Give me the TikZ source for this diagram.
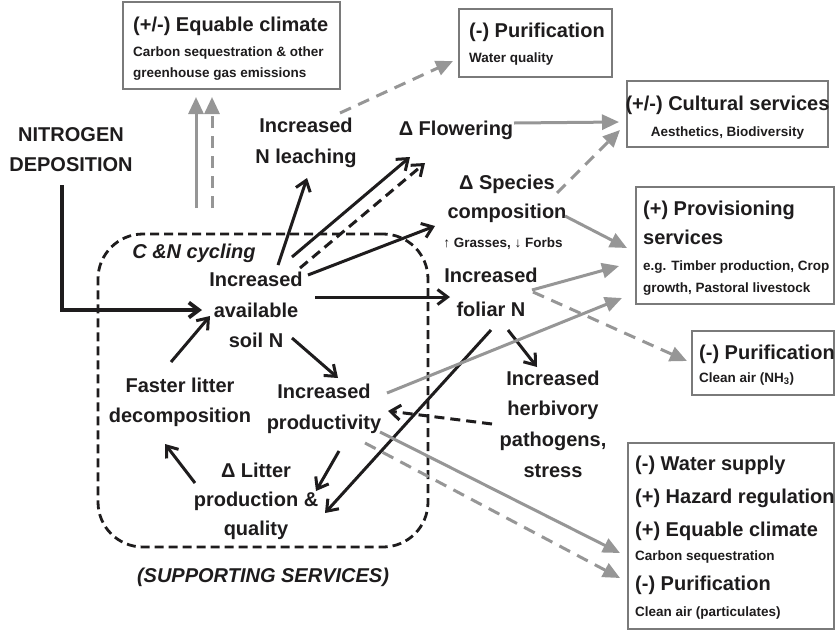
\documentclass[tikz,border=0pt]{standalone}
\usepackage{fontspec}
\setmainfont{Liberation Sans}
\usetikzlibrary{arrows.meta}
\definecolor{ink}{HTML}{1E1C1D}
\definecolor{gl}{HTML}{969696}
\definecolor{bx}{HTML}{7A7A7A}
\begin{document}
\begin{tikzpicture}[x=1pt,y=-1pt,
  lbl/.style={font=\bfseries\fontsize{20}{30}\selectfont, align=center, inner sep=0pt, text=ink},
  ttl/.style={font=\bfseries\fontsize{20}{24}\selectfont, anchor=base west, inner sep=0pt, text=ink},
  sub/.style={font=\bfseries\fontsize{13.5}{16}\selectfont, anchor=base west, inner sep=0pt, text=ink},
  svbox/.style={draw=bx, line width=1.3pt, inner sep=0pt},
  blk/.style={draw=ink, line width=3pt, -{Straight Barb[length=10pt,width=15pt]}},
  blkd/.style={blk, dash pattern=on 10pt off 6pt},
  gry/.style={draw=gl, line width=3pt, -{Triangle[length=17pt,width=15pt]}},
  gryd/.style={gry, dash pattern=on 12pt off 8pt},
]
\useasboundingbox (0,0) rectangle (835,630);

% cycle box
\node[draw=ink, line width=2.8pt, dash pattern=on 9pt off 5pt, rounded corners=45pt,
      minimum width=330pt, minimum height=313pt, inner sep=0pt] (cyc) at (263,390.5) {};

% service boxes
\node[svbox, minimum width=217pt, minimum height=87pt] (eqc) at (231.5,45.5) {};
\node[ttl] (eqct) at (133,31) {(+/-) Equable climate};
\node[sub] (eqcs1) at (133,56) {Carbon sequestration \& other};
\node[sub] (eqcs2) at (133,77) {greenhouse gas emissions};

\node[svbox, minimum width=153pt, minimum height=68pt] (pw) at (535.5,43) {};
\node[ttl] (pwt) at (469,37) {(-) Purification};
\node[sub] (pws) at (469,62) {Water quality};

\node[svbox, minimum width=201pt, minimum height=66pt] (cult) at (727.5,114) {};
\node[ttl, anchor=base] (cultt) at (727.5,110) {(+/-) Cultural services};
\node[sub, anchor=base] (cults) at (727.5,136) {Aesthetics, Biodiversity};

\node[svbox, minimum width=198pt, minimum height=117pt] (prov) at (735,245.5) {};
\node[ttl] (provt1) at (643,215) {(+) Provisioning};
\node[ttl] (provt2) at (643,244) {services};
\node[sub] (provs1) at (643,270) {e.g. Timber production, Crop};
\node[sub] (provs2) at (643,292) {growth, Pastoral livestock};

\node[svbox, minimum width=142pt, minimum height=64pt] (pnh) at (763,363) {};
\node[ttl] (pnht) at (699,359) {(-) Purification};
\node[sub] (pnhs) at (699,382) {Clean air (NH\textsubscript{3})};

\node[svbox, minimum width=206pt, minimum height=186pt] (bot) at (731,536) {};
\node[ttl] (bot1) at (635,470) {(-) Water supply};
\node[ttl] (bot2) at (635,503) {(+) Hazard regulation};
\node[ttl] (bot3) at (635,536) {(+) Equable climate};
\node[sub] (bot4) at (635,560) {Carbon sequestration};
\node[ttl] (bot5) at (635,590) {(-) Purification};
\node[sub] (bot6) at (635,616) {Clean air (particulates)};

% labels
\node[lbl] (ndep) at (71,150) {NITROGEN\\DEPOSITION};
\node[lbl, font=\bfseries\fontsize{20}{31}\selectfont] (leach) at (306,143) {Increased\\N leaching};
\node[lbl] (flow) at (456,130) {Δ Flowering};
\node[lbl, font=\bfseries\fontsize{20}{29}\selectfont] (spec) at (507,199) {Δ Species\\composition};
\node[sub, anchor=base] (grass) at (503,247) {↑ Grasses, ↓ Forbs};
\node[lbl, font=\bfseries\fontsize{20}{34}\selectfont] (fol) at (491,292) {Increased\\foliar N};
\node[lbl, font=\bfseries\itshape\fontsize{20}{30}\selectfont] (cn) at (194,253) {C \&N cycling};
\node[lbl, font=\bfseries\fontsize{20}{30.5}\selectfont] (avail) at (256,310) {Increased\\available\\soil N};
\node[lbl] (faster) at (180,402) {Faster litter\\decomposition};
\node[lbl, font=\bfseries\fontsize{20}{31}\selectfont] (prod) at (324,409) {Increased\\productivity};
\node[lbl, font=\bfseries\fontsize{20}{29}\selectfont] (litter) at (256,501) {Δ Litter\\production \&\\quality};
\node[lbl, font=\bfseries\fontsize{20}{30.7}\selectfont] (herb) at (553,424) {Increased\\herbivory\\pathogens,\\stress};
\node[lbl, font=\bfseries\itshape\fontsize{20}{30}\selectfont] (supp) at (263,577) {(SUPPORTING SERVICES)};

% black arrows
\draw[blk, line width=3.8pt] ([shift={(-9,35)}]ndep.center) |- ([shift={(-54,0)}]avail.center);
\draw[blk] ([shift={(22,-45)}]avail.center) -- ([shift={(1,35)}]leach.center);
\draw[blk] ([shift={(36,-53)}]avail.center) -- ([shift={(-46,27)}]flow.center);
\draw[blkd] ([shift={(44,-42)}]avail.center) -- ([shift={(-31,33)}]flow.center);
\draw[blk] ([shift={(52,-35)}]avail.center) -- ([shift={(-72,27)}]spec.center);
\draw[blk] ([shift={(59,-13)}]avail.center) -- ([shift={(-41,5)}]fol.center);
\draw[blk] ([shift={(36,28)}]avail.center) -- ([shift={(14,-31)}]prod.center);
\draw[blk] ([shift={(-9,-40)}]faster.center) -- ([shift={(-46,6)}]avail.center);
\draw[blk] ([shift={(-61,-18)}]litter.center) -- ([shift={(-15,42)}]faster.center);
\draw[blk] ([shift={(15,42)}]prod.center) -- ([shift={(60,-10)}]litter.center);
\draw[blk] ([shift={(0,38)}]fol.center) -- ([shift={(69,12)}]litter.center);
\draw[blk] ([shift={(17,38)}]fol.center) -- ([shift={(-16,-57)}]herb.center);
\draw[blkd] ([shift={(-61,0)}]herb.center) -- ([shift={(64,2)}]prod.center);

% grey arrows
\draw[gry] ([shift={(-35.5,162.5)}]eqc.center) -- ([shift={(-35.5,51.5)}]eqc.center);
\draw[gryd] ([shift={(-19.5,162.5)}]eqc.center) -- ([shift={(-19.5,51.5)}]eqc.center);
\draw[gryd] ([shift={(34,-30)}]leach.center) -- ([shift={(-82.5,18)}]pw.center);
\draw[gry] ([shift={(58,-7)}]flow.center) -- ([shift={(-108.5,8)}]cult.center);
\draw[gryd] ([shift={(50,-6)}]spec.center) -- ([shift={(-107.5,16)}]cult.center);
\draw[gry] ([shift={(58,17)}]spec.center) -- ([shift={(-108,2.5)}]prov.center);
\draw[gry] ([shift={(41,-2)}]fol.center) -- ([shift={(-116,20.5)}]prov.center);
\draw[gryd] ([shift={(42,0)}]fol.center) -- ([shift={(-76,-2)}]pnh.center);
\draw[gry] ([shift={(63,-16)}]prod.center) -- ([shift={(-113,52.5)}]prov.center);
\draw[gry] ([shift={(56,23)}]prod.center) -- ([shift={(-111,17)}]bot.center);
\draw[gryd] ([shift={(41,34)}]prod.center) -- ([shift={(-111,42)}]bot.center);
\end{tikzpicture}
\end{document}
